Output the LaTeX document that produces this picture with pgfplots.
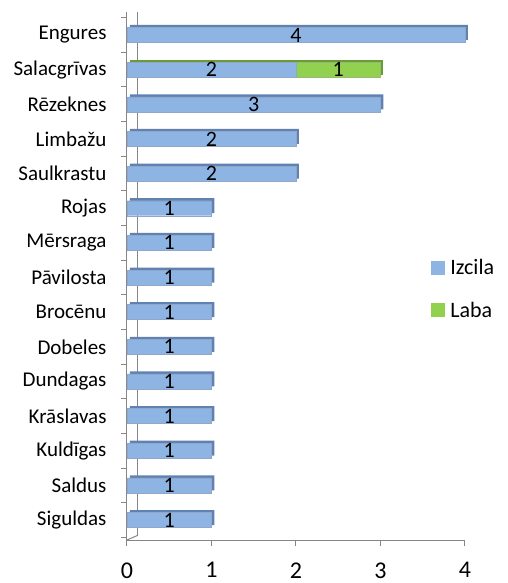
\documentclass[border=0pt]{standalone}
\usepackage{fontspec}
\setmainfont{Carlito}
\usepackage{pgfplots}
\pgfplotsset{compat=1.18}
\usetikzlibrary{calc}
\definecolor{izc}{RGB}{142,180,227}
\definecolor{izcd}{RGB}{96,130,178}
\definecolor{lab}{RGB}{146,208,80}
\definecolor{labd}{RGB}{104,156,52}
\definecolor{axg}{RGB}{134,134,134}
\begin{document}
\begin{tikzpicture}
\begin{axis}[
  scale only axis, width=338pt, height=528pt,
  xmin=0, xmax=4, ymin=0.423, ymax=15.664,
  axis x line*=bottom, axis y line*=left,
  axis line style={axg, line width=1pt},
  xtick={0,1,2,3,4},
  ytick={1,...,15},
  yticklabels={Siguldas,Saldus,Kuldīgas,Krāslavas,Dundagas,Dobeles,Brocēnu,Pāvilosta,Mērsraga,Rojas,Saulkrastu,Limbažu,Rēzeknes,Salacgrīvas,Engures},
  tick align=outside,
  major tick length=6pt,
  x tick style={axg, line width=1pt},
  y tick style={draw=none},
  /pgf/number format/assume math mode=true,
  xticklabel style={font=\fontsize{24}{27}\selectfont, yshift=-13pt},
  yticklabel style={font=\fontsize{21}{24}\selectfont, xshift=-11pt},
  legend style={draw=none, fill=none, at={(rel axis cs:0.89,0.475)}, anchor=west,
    font=\fontsize{22}{26}\selectfont, row sep=22pt},
  legend cell align=left,
  legend image code/.code={\fill[#1] (0pt,-6pt) rectangle (13pt,7pt); \path (17pt,0pt);},
  clip=false,
]
% back wall line
\draw[axg, line width=1pt] (axis cs:0.12,0.55) -- (axis cs:0.12,15.664);
\draw[axg, line width=1pt] (axis cs:0,0.423) -- (axis cs:0.12,0.55);
\addlegendimage{izc}
\addlegendentry{Izcila}
\addlegendimage{lab}
\addlegendentry{Laba}
% 3D side faces
\addplot[xbar, bar width=15pt, bar shift=0pt, fill=labd, draw=none, xshift=3pt, yshift=2.5pt, forget plot]
  coordinates {(3,14)};
\addplot[xbar, bar width=15pt, bar shift=0pt, fill=izcd, draw=none, xshift=3pt, yshift=2.5pt, forget plot]
  coordinates {(4,15) (3,13) (2,12) (2,11) (1,10) (1,9) (1,8) (1,7) (1,6) (1,5) (1,4) (1,3) (1,2) (1,1)};
% front faces
\addplot[xbar, bar width=15pt, bar shift=0pt, fill=lab, draw=labd!70, line width=0.4pt, forget plot]
  coordinates {(3,14)};
\addplot[xbar, bar width=15pt, bar shift=0pt, fill=izc, draw=izcd!70, line width=0.4pt, forget plot]
  coordinates {(4,15) (2,14) (3,13) (2,12) (2,11) (1,10) (1,9) (1,8) (1,7) (1,6) (1,5) (1,4) (1,3) (1,2) (1,1)};
% category boundary ticks on the y axis
\addplot[xcomb, axg, line width=1pt, mark=none, forget plot]
  coordinates {(-0.075,0.5) (-0.075,1.5) (-0.075,2.5) (-0.075,3.5) (-0.075,4.5) (-0.075,5.5) (-0.075,6.5) (-0.075,7.5)
    (-0.075,8.5) (-0.075,9.5) (-0.075,10.5) (-0.075,11.5) (-0.075,12.5) (-0.075,13.5) (-0.075,14.5) (-0.075,15.5)};
% value labels
\addplot[draw=none, mark=none, forget plot, nodes near coords, point meta=explicit symbolic,
  every node near coord/.append style={anchor=center, font=\fontsize{22}{24}\selectfont, yshift=0pt}]
  coordinates {(2,15)[4] (1,14)[2] (2.5,14)[1] (1.5,13)[3] (1,12)[2] (1,11)[2]
    (0.5,10)[1] (0.5,9)[1] (0.5,8)[1] (0.5,7)[1] (0.5,6)[1] (0.5,5)[1] (0.5,4)[1] (0.5,3)[1] (0.5,2)[1] (0.5,1)[1]};
\end{axis}
\pgfresetboundingbox
\path[use as bounding box] ($(current axis.south west)+(-127pt,-43pt)$) rectangle ($(current axis.north east)+(43pt,12pt)$);
\end{tikzpicture}
\end{document}
